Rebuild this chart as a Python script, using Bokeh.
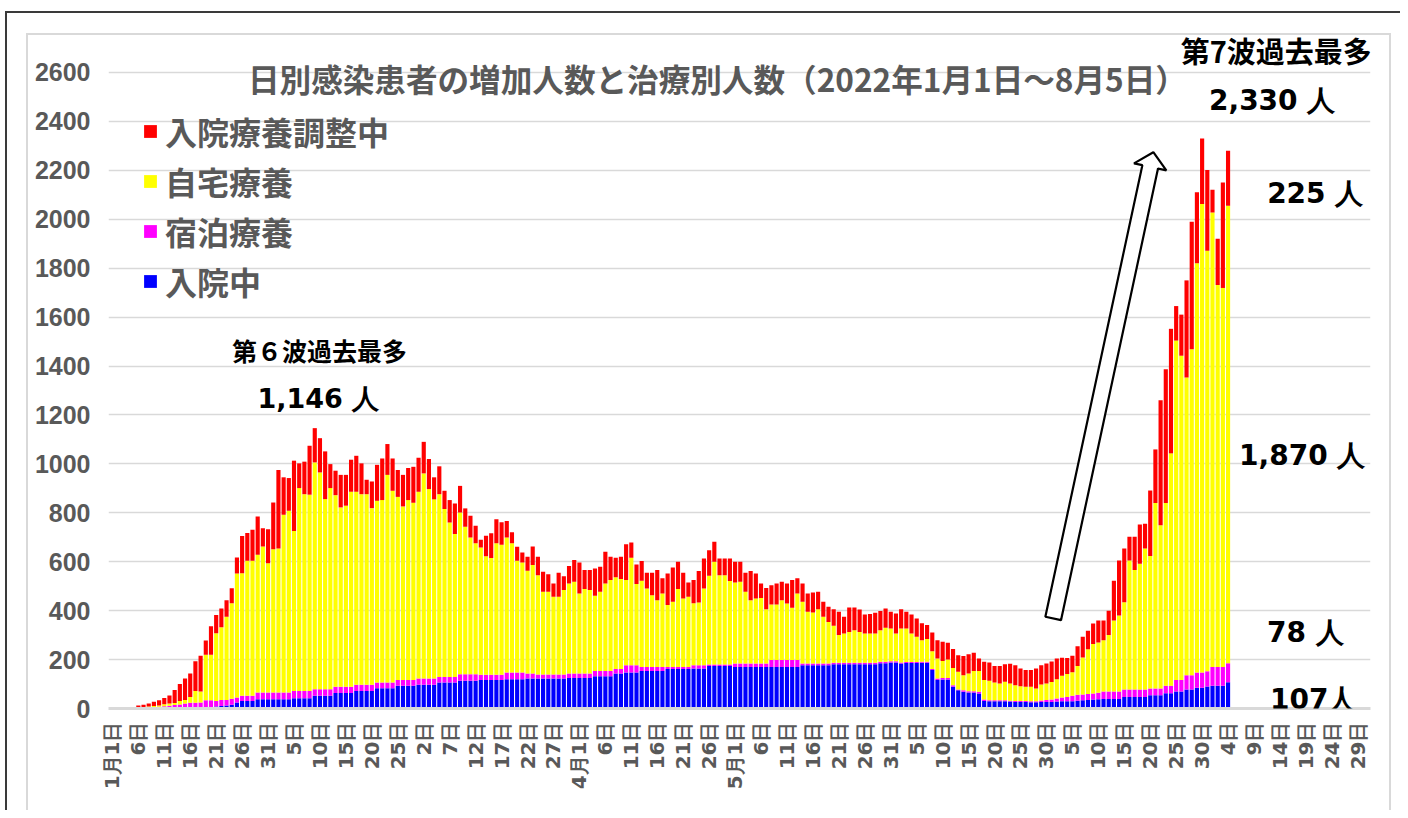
import math
from bokeh.plotting import figure
from bokeh.models import (ColumnDataSource, Range1d, FixedTicker, Label, Legend, LegendItem)
from bokeh.embed import file_html
from bokeh.resources import INLINE

# ---------------- data (daily, from 1月1日) ----------------
HOSPITAL = [
    2, 2, 2, 1, 1, 1, 1, 1, 1, 1,
    1, 2, 2, 2, 3, 3, 3, 4, 5, 6,
    8, 10, 12, 15, 25, 31, 31, 31, 38, 38,
    38, 38, 38, 38, 38, 42, 42, 42, 42, 52,
    52, 52, 52, 63, 63, 63, 63, 72, 72, 72,
    72, 83, 83, 83, 83, 93, 93, 93, 93, 97,
    97, 97, 97, 106, 106, 106, 106, 113, 113, 113,
    113, 116, 116, 116, 116, 116, 120, 120, 120, 120,
    123, 123, 123, 123, 123, 123, 123, 123, 125, 125,
    125, 125, 125, 132, 132, 132, 132, 143, 143, 147,
    147, 147, 153, 153, 153, 153, 153, 161, 161, 161,
    161, 161, 164, 164, 164, 174, 174, 174, 174, 174,
    170, 170, 170, 170, 170, 170, 170, 170, 170, 170,
    170, 170, 170, 177, 177, 177, 177, 177, 177, 181,
    181, 181, 181, 181, 181, 181, 181, 181, 185, 185,
    188, 188, 184, 186, 186, 186, 187, 187, 157, 116,
    119, 119, 89, 75, 68, 65, 65, 61, 31, 30,
    30, 30, 30, 29, 27, 27, 27, 26, 26, 27,
    27, 27, 29, 30, 30, 30, 32, 34, 35, 37,
    38, 39, 39, 39, 39, 47, 47, 47, 47, 47,
    54, 54, 54, 62, 62, 70, 70, 78, 78, 85,
    85, 90, 93, 93, 93, 107,
]
HOTEL = [
    1, 1, 1, 1, 1, 2, 3, 4, 5, 6,
    8, 9, 12, 14, 17, 20, 21, 21, 29, 28,
    23, 25, 23, 25, 20, 21, 21, 21, 27, 27,
    27, 27, 27, 27, 27, 30, 30, 30, 30, 27,
    27, 27, 27, 26, 26, 26, 26, 25, 25, 25,
    25, 23, 23, 23, 23, 23, 23, 23, 23, 26,
    26, 26, 26, 23, 23, 23, 23, 27, 27, 27,
    27, 22, 22, 22, 22, 22, 27, 27, 27, 27,
    20, 20, 16, 16, 16, 16, 16, 16, 18, 18,
    18, 18, 18, 21, 21, 21, 21, 18, 18, 30,
    30, 30, 17, 17, 17, 17, 17, 9, 9, 9,
    9, 9, 13, 13, 13, 6, 6, 6, 6, 6,
    14, 14, 14, 14, 14, 14, 14, 28, 28, 28,
    28, 28, 28, 7, 7, 7, 7, 7, 7, 6,
    6, 6, 6, 6, 6, 6, 6, 6, 6, 6,
    5, 5, 4, 4, 4, 4, 4, 4, 4, 7,
    6, 6, 6, 3, 7, 6, 6, 7, 6, 4,
    4, 4, 4, 3, 4, 4, 4, 4, 4, 6,
    8, 10, 12, 15, 17, 22, 24, 23, 24, 24,
    26, 31, 31, 31, 31, 31, 31, 31, 31, 31,
    28, 28, 28, 31, 31, 46, 46, 58, 58, 62,
    62, 62, 77, 77, 77, 78,
]
HOME = [
    0, 0, 1, 1, 1, 2, 2, 3, 4, 5,
    8, 9, 8, 15, 15, 24, 48, 45, 186, 186,
    277, 297, 340, 390, 507, 501, 552, 552, 563, 597,
    529, 586, 589, 727, 743, 654, 829, 804, 802, 927,
    886, 777, 822, 783, 733, 740, 797, 789, 779, 779,
    722, 743, 746, 849, 784, 749, 710, 736, 725, 763,
    838, 774, 732, 747, 686, 631, 584, 661, 603, 559,
    535, 520, 484, 477, 537, 531, 552, 528, 457, 450,
    420, 444, 406, 338, 338, 318, 318, 345, 368, 375,
    327, 345, 341, 308, 324, 358, 372, 375, 368, 348,
    439, 332, 352, 321, 293, 273, 300, 253, 266, 318,
    280, 287, 253, 256, 314, 363, 420, 365, 365, 341,
    331, 334, 293, 259, 266, 268, 222, 227, 227, 245,
    231, 214, 272, 252, 211, 208, 222, 191, 170, 151,
    113, 120, 126, 133, 126, 120, 120, 120, 129, 139,
    134, 114, 139, 137, 117, 103, 88, 93, 73, 81,
    69, 75, 71, 72, 61, 72, 82, 85, 79, 79,
    72, 68, 75, 70, 64, 60, 58, 59, 52, 65,
    67, 71, 79, 89, 94, 96, 118, 151, 183, 203,
    206, 209, 230, 290, 310, 356, 527, 488, 514, 576,
    541, 758, 667, 747, 950, 1388, 1326, 1217, 1332, 1673,
    1915, 1719, 1857, 1561, 1549, 1870,
]
ADJUST = [
    1, 1, 1, 3, 3, 7, 9, 12, 18, 22,
    26, 33, 54, 69, 88, 96, 121, 146, 58, 116,
    74, 77, 68, 62, 65, 152, 113, 127, 157, 75,
    139, 191, 321, 153, 134, 287, 101, 133, 200, 140,
    140, 195, 98, 100, 133, 126, 131, 147, 126, 59,
    109, 147, 170, 126, 132, 110, 129, 131, 147, 139,
    129, 123, 90, 114, 75, 92, 125, 109, 75, 89,
    72, 32, 84, 101, 99, 92, 67, 45, 57, 41,
    57, 75, 75, 82, 72, 54, 98, 57, 71, 89,
    127, 78, 82, 111, 102, 130, 95, 80, 91, 146,
    63, 80, 81, 64, 92, 123, 62, 129, 140, 112,
    105, 58, 95, 129, 122, 104, 82, 68, 68, 92,
    85, 82, 78, 119, 102, 59, 87, 79, 86, 75,
    82, 113, 62, 75, 75, 82, 71, 61, 62, 68,
    95, 68, 100, 93, 92, 77, 79, 84, 79, 79,
    68, 81, 79, 68, 77, 75, 69, 57, 77, 75,
    79, 69, 77, 68, 79, 79, 75, 51, 75, 75,
    68, 72, 72, 81, 82, 73, 68, 68, 82, 79,
    82, 84, 84, 73, 65, 68, 80, 85, 76, 83,
    90, 81, 100, 162, 225, 220, 97, 136, 160, 101,
    268, 219, 511, 547, 509, 141, 168, 397, 522, 290,
    268, 330, 93, 189, 431, 225,
]

SERIES = ["入院中", "宿泊療養", "自宅療養", "入院療養調整中"]
COLORS = ["#0000FF", "#FF00FF", "#FFFF00", "#FF0000"]

TICK_LABELS = ["1月1日", "6日", "11日", "16日", "21日", "26日", "31日",
               "5日", "10日", "15日", "20日", "25日",
               "2日", "7日", "12日", "17日", "22日", "27日",
               "4月1日", "6日", "11日", "16日", "21日", "26日",
               "5月1日", "6日", "11日", "16日", "21日", "26日", "31日",
               "5日", "10日", "15日", "20日", "25日", "30日",
               "5日", "10日", "15日", "20日", "25日", "30日",
               "4日", "9日", "14日", "19日", "24日", "29日"]
Y_TICKS = [0, 200, 400, 600, 800, 1000, 1200, 1400, 1600, 1800, 2000, 2200, 2400, 2600]

TITLE = "日別感染患者の増加人数と治療別人数（2022年1月1日～8月5日）"
NOTES = [  # (text, day, value, font, size)
    ("第６波過去最多", 39.9, 1464, "Noto Sans CJK JP", "25px"),
    ("1,146 人", 39.7, 1268, "DejaVu Sans", "27px"),
    ("第7波過去最多", 224.3, 2691, "Noto Sans CJK JP", "29px"),
    ("2,330 人", 223.5, 2487, "DejaVu Sans", "28px"),
    ("225 人", 231.8, 2106, "DejaVu Sans", "28px"),
    ("1,870 人", 229.3, 1035, "DejaVu Sans", "28px"),
    ("78 人", 229.9, 311, "DejaVu Sans", "28px"),
    ("107人", 231.4, 37, "DejaVu Sans", "28px"),
]
ARROW_TAIL = (181.3, 368)
ARROW_TIP = (200.6, 2274)

# ---------------- figure ----------------
X0, X1 = -0.75, 242.45
Y0, Y1 = 0, 2751
FW, FH = 1262, 673

days = list(range(len(HOSPITAL)))
src = ColumnDataSource(dict(day=days, hosp=HOSPITAL, hotel=HOTEL, home=HOME, adj=ADJUST))

p = figure(frame_width=FW, frame_height=FH, x_range=Range1d(X0, X1), y_range=Range1d(Y0, Y1),
           output_backend="svg", toolbar_location=None, title=None,
           min_border_left=108, min_border_right=30, min_border_top=35, min_border_bottom=102)
p.background_fill_color = "white"
p.border_fill_alpha = 0
p.outline_line_color = None

# outer dark frame lines (top/left) and the light grey chart-area border
_g = lambda c, x, y, w, h: f"linear-gradient({c},{c}) {x}px {y}px / {w}px {h}px no-repeat"
p.styles = {"background": ", ".join([
    _g("#3a3a3a", 6, 11, 1400, 2),
    _g("#3a3a3a", 5, 11, 2, 800),
    _g("#d9d9d9", 26, 33, 1364, 2),
    _g("#d9d9d9", 26, 33, 2, 800),
    _g("#d9d9d9", 1389, 33, 2, 800),
]) + ", white"}

rs = p.vbar_stack(["hosp", "hotel", "home", "adj"], x="day", width=0.8, source=src,
                  fill_color=COLORS, line_color=None)

p.xgrid.visible = False
p.ygrid.ticker = FixedTicker(ticks=Y_TICKS)
p.ygrid.grid_line_color = "#d9d9d9"
p.ygrid.grid_line_width = 1.5

p.yaxis.ticker = FixedTicker(ticks=Y_TICKS)
p.yaxis.axis_line_color = None
p.yaxis.major_tick_line_color = None
p.yaxis.minor_tick_line_color = None
p.yaxis.major_label_text_font = "Liberation Sans"
p.yaxis.major_label_text_font_size = "25px"
p.yaxis.major_label_text_font_style = "bold"
p.yaxis.major_label_text_color = "#595959"
p.yaxis.major_label_standoff = 12

tick_pos = list(range(0, 5 * len(TICK_LABELS), 5))
p.xaxis.ticker = FixedTicker(ticks=tick_pos)
p.xaxis.major_label_overrides = {t: lab for t, lab in zip(tick_pos, TICK_LABELS)}
p.xaxis.major_label_orientation = math.pi / 2
p.xaxis.axis_line_color = "#d9d9d9"
p.xaxis.axis_line_width = 3
p.xaxis.major_tick_line_color = None
p.xaxis.minor_tick_line_color = None
p.xaxis.major_label_text_font = "DejaVu Sans"
p.xaxis.major_label_text_font_size = "20px"
p.xaxis.major_label_text_font_style = "bold"
p.xaxis.major_label_text_color = "#595959"
p.xaxis.major_label_standoff = 7

# legend
legend = Legend(items=[LegendItem(label=SERIES[3], renderers=[rs[3]]),
                       LegendItem(label=SERIES[2], renderers=[rs[2]]),
                       LegendItem(label=SERIES[1], renderers=[rs[1]]),
                       LegendItem(label=SERIES[0], renderers=[rs[0]])],
                location=(34, 404), orientation="vertical",
                glyph_width=16, glyph_height=16, label_standoff=7, spacing=4,
                padding=0, margin=0, border_line_color=None, background_fill_alpha=0,
                label_text_font="Noto Sans CJK JP", label_text_font_size="32px",
                label_text_font_style="bold", label_text_color="#595959", label_height=16)
p.add_layout(legend)

# arrow (hollow block arrow)
sx = FW / (X1 - X0)
sy = FH / (Y1 - Y0)
tx, ty = (ARROW_TAIL[0] - X0) * sx, ARROW_TAIL[1] * sy
hx, hy = (ARROW_TIP[0] - X0) * sx, ARROW_TIP[1] * sy
L = math.hypot(hx - tx, hy - ty)
dx, dy = (hx - tx) / L, (hy - ty) / L
nx, ny = -dy, dx
w, hw, hl = 8.0, 16.5, 15.0
bx, by = hx - dx * hl, hy - dy * hl
pts = [(tx + nx * w, ty + ny * w), (bx + nx * w, by + ny * w), (bx + nx * hw, by + ny * hw),
       (hx, hy), (bx - nx * hw, by - ny * hw), (bx - nx * w, by - ny * w), (tx - nx * w, ty - ny * w)]
p.patch([X0 + a / sx for a, b in pts], [b / sy for a, b in pts],
        fill_color="white", line_color="black", line_width=2.2)

# title and notes
p.add_layout(Label(x=116.6, y=2579, text=TITLE, text_align="center", text_baseline="middle",
                   text_font="Noto Sans CJK JP", text_font_size="31.6px", text_font_style="bold",
                   text_color="#595959"))
for txt, x, y, font, size in NOTES:
    p.add_layout(Label(x=x, y=y, text=txt, text_align="center", text_baseline="middle",
                       text_font=font, text_font_size=size, text_font_style="bold",
                       text_color="black"))

open("out.html", "w").write(file_html(p, INLINE))
